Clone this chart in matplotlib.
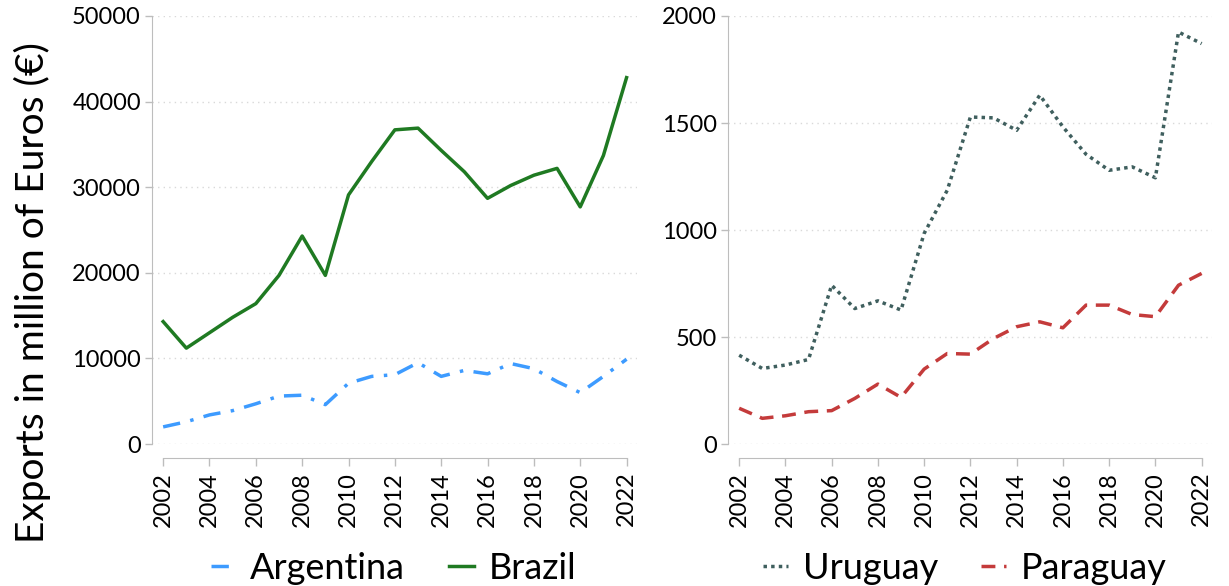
import matplotlib.pyplot as plt
from matplotlib.lines import Line2D

plt.rcParams['font.family'] = ['Lato', 'DejaVu Sans']

years = list(range(2002, 2023))

argentina = [2000, 2600, 3400, 3900, 4700, 5600, 5700, 4600, 7100, 7900, 8100,
             9500, 7900, 8600, 8200, 9400, 8800, 7300, 6000, 7900, 9900]
brazil = [14300, 11200, 13000, 14800, 16400, 19700, 24300, 19700, 29100, 33000, 36700,
          36900, 34300, 31800, 28700, 30200, 31400, 32200, 27700, 33700, 42800]
uruguay = [415, 353, 369, 395, 742, 633, 669, 626, 984, 1186, 1528,
           1524, 1466, 1630, 1482, 1354, 1279, 1295, 1244, 1925, 1871]
paraguay = [167, 120, 132, 151, 156, 213, 280, 218, 350, 423, 420,
            493, 548, 571, 543, 649, 649, 605, 595, 742, 797]

c_arg = '#3d9bff'
c_bra = '#1f7a22'
c_uru = '#3f5f5e'
c_par = '#c43b3b'
grey = '#bdbdbd'

ls_arg = (0, (5, 3, 1, 3))
ls_uru = (0, (1, 1.2))
ls_par = (0, (4, 2.5))

fig = plt.figure(figsize=(12.29, 5.86), dpi=100)
ax1 = fig.add_axes([0.1237, 0.2423, 0.3946, 0.7304])
ax2 = fig.add_axes([0.5924, 0.2423, 0.3938, 0.7304])


def style(ax, yticks):
    ax.set_xlim(2001.52, 2022.45)
    ax.set_ylim(yticks[0], yticks[-1])
    ax.set_xticks(range(2002, 2023, 2))
    ax.set_yticks(yticks)
    ax.tick_params(axis='x', rotation=90, labelsize=17, colors=grey,
                   labelcolor='black', length=6, width=1, pad=4)
    ax.tick_params(axis='y', labelsize=17, colors=grey, labelcolor='black',
                   length=5, width=1, pad=3)
    for s in ['top', 'right']:
        ax.spines[s].set_visible(False)
    ax.spines['left'].set_color(grey)
    ax.spines['bottom'].set_color(grey)
    ax.spines['bottom'].set_position(('outward', 10))
    ax.spines['bottom'].set_bounds(2002, 2022)
    ax.grid(axis='y', color='#d9d9d9', linestyle=(0, (1, 3)), linewidth=1)
    ax.set_axisbelow(True)


ax1.plot(years, argentina, color=c_arg, linewidth=2.5, linestyle=ls_arg)
ax1.plot(years, brazil, color=c_bra, linewidth=2.5)
style(ax1, [0, 10000, 20000, 30000, 40000, 50000])
fig.text(0.026, 0.5, 'Exports in million of Euros (€)', rotation=90,
         ha='center', va='center', fontsize=28)

ax2.plot(years, uruguay, color=c_uru, linewidth=2.5, linestyle=ls_uru)
ax2.plot(years, paraguay, color=c_par, linewidth=2.5, linestyle=ls_par)
style(ax2, [0, 500, 1000, 1500, 2000])

leg_kw = dict(loc='center', ncol=2, frameon=False, fontsize=26, handlelength=0.7,
              handletextpad=0.4, columnspacing=1.2)
h1 = [Line2D([], [], color=c_arg, linewidth=2.5, linestyle=ls_arg),
      Line2D([], [], color=c_bra, linewidth=2.5)]
fig.legend(h1, ['Argentina', 'Brazil'], bbox_to_anchor=(0.320, 0.030), **leg_kw)
h2 = [Line2D([], [], color=c_uru, linewidth=2.5, linestyle=ls_uru),
      Line2D([], [], color=c_par, linewidth=2.5, linestyle=ls_par)]
fig.legend(h2, ['Uruguay', 'Paraguay'], bbox_to_anchor=(0.785, 0.030), **leg_kw)

fig.savefig('out.png', dpi=100)
